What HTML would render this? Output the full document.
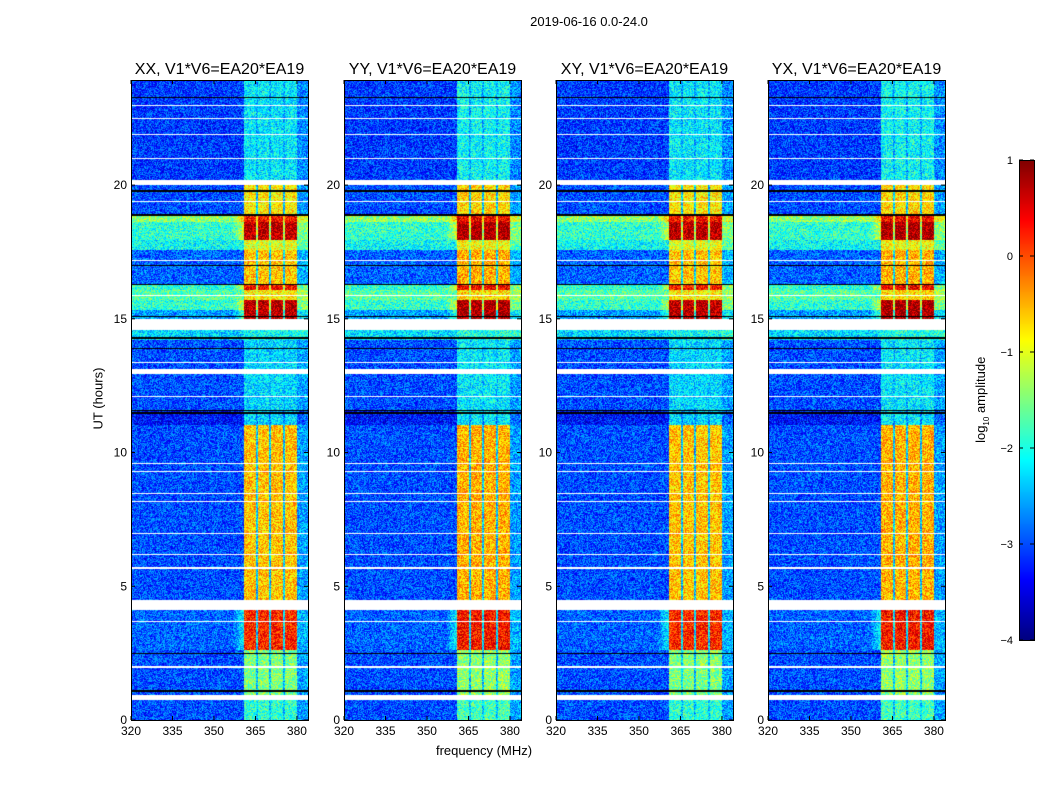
<!DOCTYPE html>
<html><head><meta charset="utf-8"><style>
body{margin:0;background:#fff;font-family:"Liberation Sans","DejaVu Sans",sans-serif;}
#root{position:relative;width:1050px;height:800px;background:#fff;overflow:hidden}
.t{position:absolute;white-space:nowrap;color:#000}
canvas{position:absolute}
</style></head><body>
<div id="root">
<div class="t" style="left:489px;top:14px;width:200px;text-align:center;font-size:13px">2019-06-16 0.0-24.0</div>
<div class="t" style="left:384px;top:743px;width:200px;text-align:center;font-size:13px">frequency (MHz)</div>
<div class="t" style="left:48px;top:391px;width:100px;text-align:center;font-size:13px;transform:rotate(-90deg)">UT (hours)</div>
<div class="t" style="left:912px;top:391px;width:140px;text-align:center;font-size:13px;transform:rotate(-90deg)">log<sub style="font-size:8px">10</sub> amplitude</div>
<svg id="svg" width="1050" height="800" style="position:absolute;left:0;top:0"></svg>
</div>
<script>
// ---- data ----
const panelTitles = ["XX, V1*V6=EA20*EA19","YY, V1*V6=EA20*EA19","XY, V1*V6=EA20*EA19","YX, V1*V6=EA20*EA19"];
const xTicks = [320,335,350,365,380];
const yTicks = [0,5,10,15,20];
const cbTicks = [1,0,-1,-2,-3,-4];
const segStart = [0,0.93,2.62,4.49,11.03,11.59,14.21,15.0,15.33,15.70,16.07,16.26,17.57,17.94,18.62,18.88,20.19];
const segEnd   = [0.75,2.62,4.11,11.03,11.59,14.21,14.6,15.33,15.70,16.07,16.26,17.57,17.94,18.62,18.88,20.0,24.0];
const segBg    = [-3.0,-3.0,-2.9,-3.0,-3.3,-3.0,-2.3,-2.6,-1.9,-1.7,-1.9,-2.9,-2.1,-1.9,-1.4,-3.0,-3.1];
const segBand  = [-1.9,-1.5,0.2,-0.6,-2.3,-2.3,-2.1,0.7,0.7,-0.8,0.3,-0.6,-1.0,0.7,0.3,-0.8,-2.2];
const whiteGaps = [[0.75,0.93],[4.11,4.49],[14.6,14.75],[12.95,13.12],[20.0,20.19]];
const whiteLines = [2.0,5.7,6.2,7.0,8.2,8.5,9.3,9.6,12.1,13.4,15.9,17.2,19.4,21.0,21.9,22.5,23.0,3.7,14.9];
const blackLines = [1.1,2.5,11.5,11.6,13.9,15.1,16.3,17.0,18.9,19.8,23.3,14.3];
const bandLo = 360.9, bandHi = 380.0;
const bandSeps = [365.6,370.3,375.4];
const panelLeft = [131,344,556,768];
const panelOffset = [0,0.1,0,0.1];

const PW=177, PT=80, PH=640, FMIN=320, FMAX=384, TMAX=23.93;
const xs = (f,i)=>panelLeft[i]+(f-FMIN)/(FMAX-FMIN)*PW;
const ys = h=>PT+PH-(h/TMAX)*PH;

function jet(v){
  const c=x=>Math.max(0,Math.min(1,x));
  const r=c(1.5-Math.abs(4*v-3)), g=c(1.5-Math.abs(4*v-2)), b=c(1.5-Math.abs(4*v-1));
  return [r*255,g*255,b*255];
}
function hash(a,b){let h=(a*374761393+b*668265263)|0;h=(h^(h>>>13))*1274126177|0;return ((h^(h>>>16))>>>0)/4294967296;}

const root=document.getElementById('root');
const svg=document.getElementById('svg');
const NS='http://www.w3.org/2000/svg';
function addT(x,y,txt,anchor,size,name){
  const t=document.createElementNS(NS,'text');
  t.setAttribute('x',x);t.setAttribute('y',y);t.setAttribute('text-anchor',anchor);
  t.setAttribute('font-size',size);t.setAttribute('font-family','Liberation Sans, sans-serif');
  t.textContent=txt;
  
  
  svg.appendChild(t);
}
function addL(x1,y1,x2,y2,name){
  const l=document.createElementNS(NS,'line');
  l.setAttribute('x1',x1);l.setAttribute('y1',y1);l.setAttribute('x2',x2);l.setAttribute('y2',y2);
  l.setAttribute('stroke','#000');l.setAttribute('stroke-width',1);
  
  
  svg.appendChild(l);
}

for(let p=0;p<4;p++){
  const cv=document.createElement('canvas');
  cv.width=PW;cv.height=PH;
  cv.style.left=panelLeft[p]+'px';cv.style.top=PT+'px';
  
  
  root.insertBefore(cv,svg);
  const ctx=cv.getContext('2d');
  const img=ctx.createImageData(PW,PH);
  for(let y=0;y<PH;y++){
    const h=(PH-y-0.5)/PH*TMAX;
    let seg=-1;
    for(let s=0;s<segStart.length;s++) if(h>=segStart[s]&&h<segEnd[s]){seg=s;break;}
    let white=seg<0;
    for(const g of whiteGaps) if(h>=g[0]&&h<g[1]) white=true;
    for(const w of whiteLines) if(Math.abs(ys(w)-PT-y)<0.6) white=true;
    let black=false;
    for(const b of blackLines) if(Math.abs(ys(b)-PT-y)<0.6) black=true;
    for(let x=0;x<PW;x++){
      const k=(y*PW+x)*4;
      let col;
      if(white) col=[255,255,255];
      else if(black) col=[0,0,0];
      else{
        const f=FMIN+(x+0.5)/PW*(FMAX-FMIN);
        let v=segBg[seg];
        if(f>=bandLo&&f<bandHi){
          v=segBand[seg]+panelOffset[p];
          for(const s of bandSeps) if(Math.abs(f-s)<0.35) v=Math.min(v,segBg[seg]+0.6);
        } else if(f>=bandHi){ v=segBg[seg]+0.4; }
        else if(f>bandLo-4 && segBand[seg]>-0.2){ v=segBg[seg]+0.8*(1-(bandLo-f)/4); }
        v+= (hash(x+p*1000,y)-0.5)*1.1;
        col=jet(Math.max(0,Math.min(1,(v+4)/5)));
      }
      img.data[k]=col[0];img.data[k+1]=col[1];img.data[k+2]=col[2];img.data[k+3]=255;
    }
  }
  ctx.putImageData(img,0,0);
  const L=panelLeft[p];
  const fr=document.createElementNS(NS,'rect');
  fr.setAttribute('x',L+0.5);fr.setAttribute('y',PT+0.5);fr.setAttribute('width',PW);fr.setAttribute('height',PH);
  fr.setAttribute('fill','none');fr.setAttribute('stroke','#000');
  
  
  svg.appendChild(fr);
  addT(L+PW/2,74,panelTitles[p],'middle',16,'panel-title');
  for(const t of xTicks){const x=xs(t,p);addL(x,PT+PH,x,PT+PH-4,'x-tick');addL(x,PT,x,PT+4,'x-tick');addT(x,PT+PH+15,String(t),'middle',12,'x-tick-label');}
  for(const t of yTicks){const y=ys(t);addL(L,y,L+4,y,'y-tick');addL(L+PW,y,L+PW-4,y,'y-tick');addT(L-4,y+4,String(t),'end',12,'y-tick-label');}
}
// colorbar
const cb=document.createElement('canvas');cb.width=15;cb.height=480;
cb.style.left='1019px';cb.style.top='160px';


root.insertBefore(cb,svg);
const cctx=cb.getContext('2d');
for(let y=0;y<480;y++){const c=jet(1-(y+0.5)/480);cctx.fillStyle=`rgb(${c[0]|0},${c[1]|0},${c[2]|0})`;cctx.fillRect(0,y,15,1);}
const cbr=document.createElementNS(NS,'rect');
cbr.setAttribute('x',1019.5);cbr.setAttribute('y',160.5);cbr.setAttribute('width',15);cbr.setAttribute('height',480);
cbr.setAttribute('fill','none');cbr.setAttribute('stroke','#000');


svg.appendChild(cbr);
for(const t of cbTicks){const y=160+(1-t)/5*480;addL(1019,y,1023,y,'colorbar-tick');addL(1034,y,1030,y,'colorbar-tick');addT(1013,y+4,t<0?'\u2212'+(-t):String(t),'end',11,'colorbar-tick-label');}
</script>
</body></html>
